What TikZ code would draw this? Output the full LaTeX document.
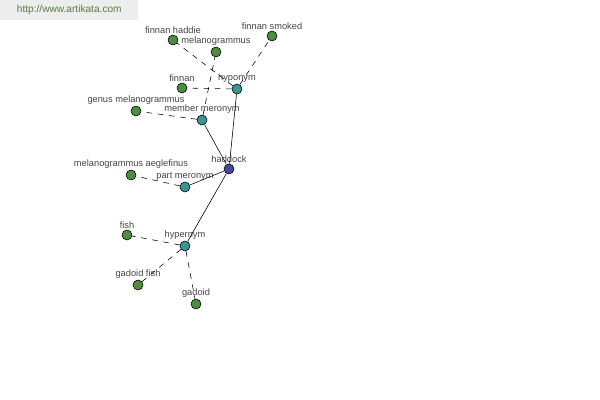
\documentclass[tikz,border=0pt]{standalone}
\usepackage{fontspec}
\setmainfont{Liberation Sans}
\definecolor{leafgreen}{HTML}{4E8C3E}
\definecolor{relteal}{HTML}{3C9494}
\definecolor{rootblue}{HTML}{46489A}
\definecolor{labelgray}{HTML}{444444}
\definecolor{urlgreen}{HTML}{5A7A40}
\begin{document}
\begin{tikzpicture}[
    x=0.025cm, y=-0.025cm,
    word/.style={circle, draw=black, thin, minimum size=0.25cm, inner sep=0pt,
                 label={[text=labelgray, font=\fontsize{6.6}{7}\selectfont, label distance=-2.5pt]above:#1}},
    leaf/.style={word=#1, fill=leafgreen},
    rel/.style={word=#1, fill=relteal},
    root/.style={word=#1, fill=rootblue},
    link/.style={thin, black},
    weak/.style={thin, black, dash pattern=on 4pt off 4pt},
  ]
    \useasboundingbox (0,0) rectangle (600,400);
    % site banner
    \node[fill=black!7, minimum width=3.45cm, minimum height=0.5cm, anchor=north west,
          text=urlgreen, font=\fontsize{7.2}{9}\selectfont] (site) at (0,0) {http://www.artikata.com};

    \node[root=haddock] (haddock) at (229,169) {};
    \node[rel=hyponym] (hypo) at (237,89) {};
    \node[rel=member meronym] (member) at (202,120) {};
    \node[rel=part meronym] (part) at (185,187) {};
    \node[rel=hypernym] (hyper) at (185,246) {};

    \node[leaf=finnan haddie] (haddie) at (173,40) {};
    \node[leaf=melanogrammus] (melano) at (216,52) {};
    \node[leaf=finnan smoked] (smoked) at (272,36) {};
    \node[leaf=finnan] (finnan) at (182,88) {};
    \node[leaf=genus melanogrammus] (genus) at (136,111) {};
    \node[leaf=melanogrammus aeglefinus] (aegl) at (131,175) {};
    \node[leaf=fish] (fish) at (127,235) {};
    \node[leaf=gadoid fish] (gfish) at (138,285) {};
    \node[leaf=gadoid] (gadoid) at (196,304) {};

    \draw[link] (haddock) -- (hypo);
    \draw[link] (haddock) -- (member);
    \draw[link] (haddock) -- (part);
    \draw[link] (haddock) -- (hyper);
    \foreach \a/\b in {hypo/haddie, hypo/smoked, hypo/finnan, member/melano,
                       member/genus, part/aegl, hyper/fish, hyper/gfish, hyper/gadoid}
      \draw[weak] (\a) -- (\b);
  \end{tikzpicture}
\end{document}
